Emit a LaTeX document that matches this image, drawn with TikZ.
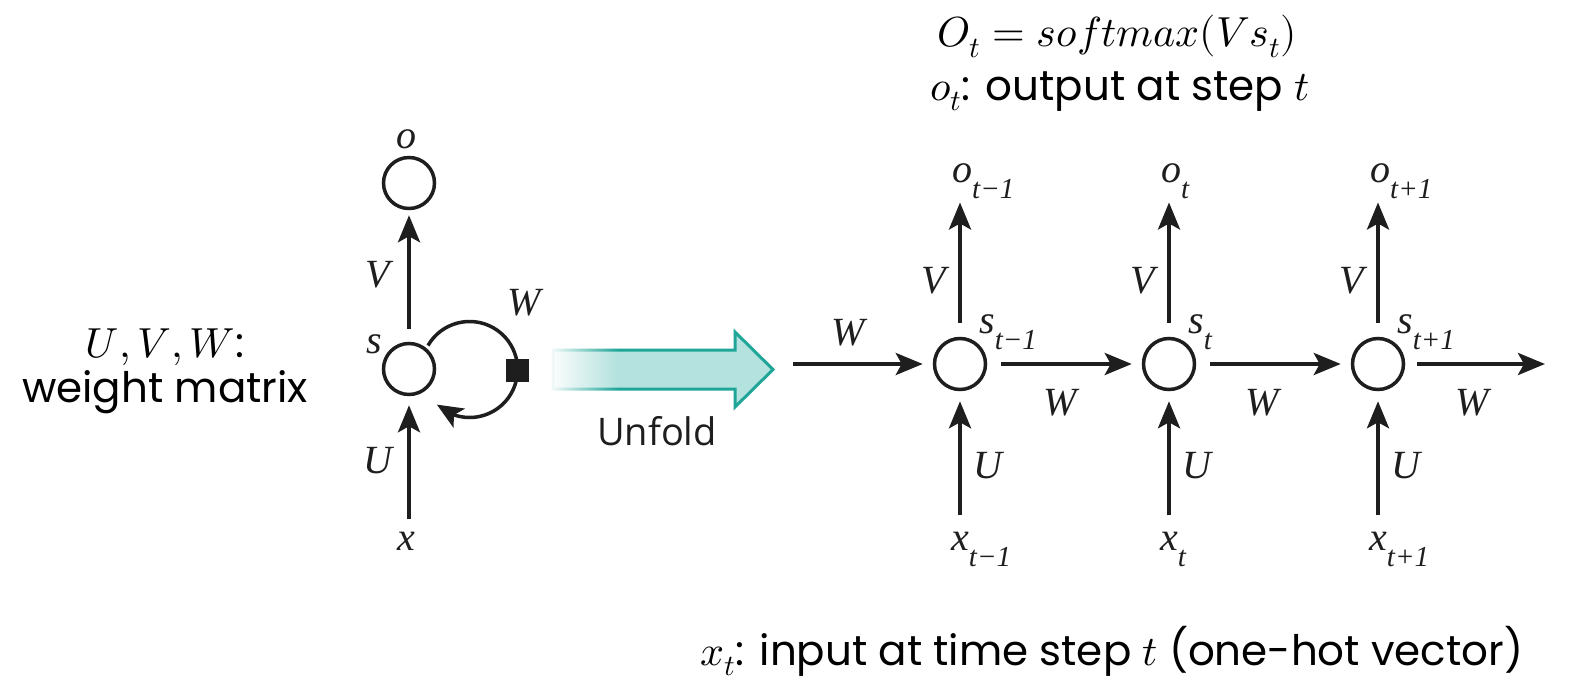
\documentclass[tikz,border=0pt]{standalone}
\usepackage{fontspec}
\usepackage{unicode-math}
\setmainfont{Poppins}
\newfontfamily\lblfont{Liberation Serif}
\newfontfamily\uifont{Open Sans}
\usetikzlibrary{arrows.meta, bending, fadings}
\definecolor{ink}{RGB}{30,30,30}
\definecolor{tealline}{RGB}{32,166,152}
\definecolor{tealfill}{RGB}{180,226,222}

% label with a dropped subscript
\newcommand\lab[2]{#1\raisebox{-16pt}{\fontsize{29}{29}\selectfont #2}}

\begin{document}
\begin{tikzpicture}[x=1pt,y=-1pt,
  cell/.style={circle, draw=ink, line width=3.5pt, minimum size=51pt, inner sep=0pt},
  arr/.style={draw=ink, line width=4pt, -{Stealth[length=27pt,width=22pt,inset=6pt]}},
  lbl/.style={text=ink, inner sep=2pt, font=\lblfont\itshape\fontsize{40}{40}\selectfont},
  sans/.style={text=black, inner sep=0pt, font=\fontsize{42}{46}\selectfont}]
\useasboundingbox[fill=white] (0,0) rectangle (1574,693);

%notes
\node[sans, anchor=base] (eq) at (1117,47) {$O_t = softmax(Vs_t)$};
\node[sans, anchor=base] (outl) at (1120,100) {$o_t$: output at step $t$};
\node[sans, anchor=base] (uvw) at (165,357) {$U,V,W$:};
\node[sans, anchor=base] (wmat) at (165,402) {weight matrix};
\node[sans, anchor=base] (inl) at (1112,665) {$x_t$: input at time step $t$ (one-hot vector)};

%folded cell
\node[cell] (o0) at (409,183) {};
\node[cell] (s0) at (409,369) {};
\node[lbl, anchor=base] (ol0) at (406,148) {o};
\node[lbl, anchor=base east] (sl0) at (384,353) {s};
\node[lbl, anchor=base east] (v0) at (392,287) {V};
\node[lbl, anchor=base east] (u0) at (395,473) {U};
\node[lbl, anchor=base] (x0) at (406,550) {x};
\node[lbl, anchor=base] (w0) at (524,315) {W};
\draw[arr, shorten <=13pt, shorten >=5pt] (s0) -- (o0);
\draw[arr, shorten <=10pt, shorten >=9pt] (s0 |- x0.north) -- (s0);
\draw[ink, line width=3.5pt, -{Stealth[length=26pt,width=22pt,inset=6pt,flex]}]
  (s0) ++(19,-23.5) arc[start angle=-150, end angle=133, radius=48];
\node[fill=ink, minimum size=23pt, inner sep=0pt] (sq) at (517.5,370) {};

%unfold arrow
\draw[tealline, fill=tealfill, line width=3pt, line join=miter]
  (553,350) -- (735,350) -- (735,332) -- (773,369.5) -- (735,407) -- (735,389) -- (553,389) -- cycle;
\fill[white, path fading=east] (548,328) rectangle (618,394);
\node[text=ink, anchor=base, inner sep=0pt, font=\uifont\fontsize{38}{40}\selectfont] (unf) at (657,445) {Unfold};

%unfolded cells
\foreach \i/\cx/\sb in {1/960/t−1, 2/1169/t, 3/1378/t+1}{
  \node[cell] (s\i) at (\cx,364) {};
  \node[lbl, anchor=base west] (o\i) at (\cx-10,182) {\lab{o}{\sb}};
  \node[lbl, anchor=base west] (x\i) at (\cx-11,550) {\lab{x}{\sb}};
  \node[lbl, anchor=base west] (sl\i) at (\cx+17,333) {\lab{s}{\sb}};
  \node[lbl, anchor=base east] (v\i) at (\cx-12,293) {V};
  \node[lbl, anchor=base west] (u\i) at (\cx+11,478) {U};
  \draw[arr, shorten <=14pt, shorten >=2pt] (s\i) -- (s\i |- o\i.south);
  \draw[arr, shorten <=14pt, shorten >=10pt] (s\i |- x\i.north) -- (s\i);
}
\coordinate (win) at (793,364);
\coordinate (wout) at (1545,364);
\draw[arr, shorten >=10pt] (win) -- (s1);
\draw[arr, shorten <=14pt, shorten >=10pt] (s1) -- (s2);
\draw[arr, shorten <=14pt, shorten >=10pt] (s2) -- (s3);
\draw[arr, shorten <=12pt] (s3) -- (wout);
\node[lbl, anchor=base] (w1) at (848,345) {W};
\node[lbl, anchor=base] (w2) at (1060,415) {W};
\node[lbl, anchor=base] (w3) at (1262,415) {W};
\node[lbl, anchor=base] (w4) at (1472,415) {W};
\end{tikzpicture}
\end{document}
